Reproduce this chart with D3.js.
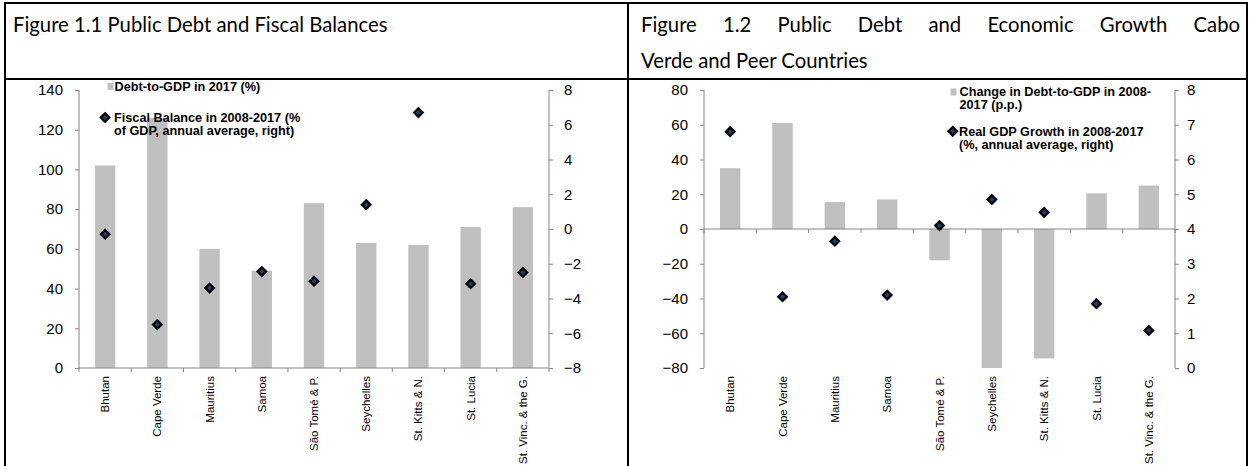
<!DOCTYPE html>
<html>
<head>
<meta charset="utf-8">
<script src="https://cdn.jsdelivr.net/npm/d3@7"></script>
<style>
  html, body { margin: 0; padding: 0; background: #fff; }
  svg { display: block; }
</style>
</head>
<body>
<svg id="chart" width="1251" height="466"></svg>
<script>
// ---- data ----
const countries = ["Bhutan", "Cape Verde", "Mauritius", "Samoa", "São Tomé & P.",
                   "Seychelles", "St. Kitts & N.", "St. Lucia", "St. Vinc. & the G."];

// Figure 1.1
const debtToGdp2017 = [102, 126, 60, 49, 83, 63, 62, 71, 81];
const fiscalBalance = [-0.3, -5.5, -3.4, -2.45, -3.0, 1.4, 6.7, -3.15, -2.5];
const debtTicks11 = [0, 20, 40, 60, 80, 100, 120, 140];
const balanceTicks11 = [-8, -6, -4, -2, 0, 2, 4, 6, 8];

// Figure 1.2
const debtChange = [35, 61, 15.5, 17, -18, -80, -74.5, 20.5, 25];
const gdpGrowth = [6.8, 2.05, 3.65, 2.1, 4.1, 4.85, 4.48, 1.85, 1.08];
const changeTicks12 = [-80, -60, -40, -20, 0, 20, 40, 60, 80];
const growthTicks12 = [0, 1, 2, 3, 4, 5, 6, 7, 8];

const title11 = "Figure 1.1 Public Debt and Fiscal Balances";
const title12a = "Figure 1.2 Public Debt and Economic Growth Cabo";
const title12b = "Verde and Peer Countries";

const legend11 = [["Debt-to-GDP in 2017 (%)"],
                  ["Fiscal Balance in 2008-2017 (%", "of GDP, annual average, right)"]];
const legend12 = [["Change in Debt-to-GDP in 2008-", "2017 (p.p.)"],
                  ["Real GDP Growth in 2008-2017", "(%, annual average, right)"]];

// ---- styles ----
const BAR = "#c0c0c0";
const AXIS = "#868686";
const TEXT_FONT = "'Liberation Sans', Arial, sans-serif";
const TITLE_FONT = "Lato, 'Open Sans', sans-serif";

const svg = d3.select("#chart");

// ---- table frame ----
const frame = svg.append("g").attr("stroke", "#000").attr("stroke-width", 2).attr("fill", "none");
frame.append("line").attr("x1", 5).attr("x2", 5).attr("y1", 2).attr("y2", 466);
frame.append("line").attr("x1", 628).attr("x2", 628).attr("y1", 2).attr("y2", 466);
frame.append("line").attr("x1", 1247).attr("x2", 1247).attr("y1", 2).attr("y2", 466);
frame.append("line").attr("x1", 4).attr("x2", 1248).attr("y1", 3).attr("y2", 3);
frame.append("line").attr("x1", 4).attr("x2", 1248).attr("y1", 79).attr("y2", 79);

// ---- titles ----
svg.append("text")
  .attr("x", 13).attr("y", 32)
  .attr("font-family", TITLE_FONT).attr("font-size", 20.3)
  .attr("fill", "#000")
  .text(title11);

// justified first line of the second title
(function () {
  const words = title12a.split(" ");
  const left = 641, right = 1240;
  const g = svg.append("g").attr("font-family", TITLE_FONT).attr("font-size", 20.3).attr("fill", "#000");
  const nodes = words.map(w => g.append("text").attr("y", 32).text(w));
  const widths = nodes.map(n => n.node().getComputedTextLength());
  const total = d3.sum(widths);
  const gap = (right - left - total) / (words.length - 1);
  let x = left;
  nodes.forEach((n, i) => { n.attr("x", x); x += widths[i] + gap; });
  g.append("text").attr("x", left).attr("y", 68).text(title12b);
})();

// ---- chart builder ----
function diamond(sel, cx, cy) {
  const r = 4.3;
  sel.append("path")
    .attr("d", `M${cx},${cy - r}L${cx + r},${cy}L${cx},${cy + r}L${cx - r},${cy}Z`)
    .attr("fill", "#1f3d6b").attr("stroke", "#000").attr("stroke-width", 2.2)
    .attr("stroke-linejoin", "miter");
}

function drawChart(cfg) {
  const g = svg.append("g");
  const x = d3.scaleBand().domain(countries).range([cfg.x0, cfg.x1])
    .paddingInner(0.61).paddingOuter(0.305);
  const yL = d3.scaleLinear().domain(cfg.leftDomain).range([cfg.yBottom, cfg.yTop]);
  const yR = d3.scaleLinear().domain(cfg.rightDomain).range([cfg.yBottom, cfg.yTop]);

  // bars
  g.append("g").selectAll("rect").data(cfg.bars).join("rect")
    .attr("x", (d, i) => x(countries[i]))
    .attr("width", x.bandwidth())
    .attr("y", d => yL(Math.max(0, d)))
    .attr("height", d => Math.abs(yL(d) - yL(0)))
    .attr("fill", BAR);

  // left axis
  const axL = g.append("g").attr("transform", `translate(${cfg.x0},0)`)
    .call(d3.axisLeft(yL).tickValues(cfg.leftTicks).tickSize(4).tickPadding(12));
  // right axis
  const axR = g.append("g").attr("transform", `translate(${cfg.x1},0)`)
    .call(d3.axisRight(yR).tickValues(cfg.rightTicks).tickSize(4).tickPadding(cfg.rightPad));
  [axL, axR].forEach(a => {
    a.select(".domain").attr("stroke", AXIS).attr("d", `M0,${cfg.yTop}V${cfg.yBottom}`);
    a.selectAll(".tick line").attr("stroke", AXIS);
    a.selectAll(".tick text").attr("font-size", 15).attr("fill", "#000").attr("font-family", TEXT_FONT);
  });

  // category axis line at zero with boundary ticks
  const y0 = yL(0);
  const step = x.step();
  const bounds = d3.range(countries.length + 1).map(i => cfg.x0 + i * step);
  const cat = g.append("g");
  cat.append("line").attr("x1", cfg.x0).attr("x2", cfg.x1).attr("y1", y0).attr("y2", y0)
    .attr("stroke", AXIS);
  cat.selectAll("line.b").data(bounds).join("line").attr("class", "b")
    .attr("x1", d => d).attr("x2", d => d).attr("y1", y0).attr("y2", y0 + 4)
    .attr("stroke", AXIS);

  // category labels along the bottom, rotated
  g.append("g").selectAll("text").data(countries).join("text")
    .attr("transform", d => `translate(${x(d) + x.bandwidth() / 2},${cfg.yBottom + 8}) rotate(-90)`)
    .attr("text-anchor", "end").attr("dy", "0.35em")
    .attr("font-family", TEXT_FONT).attr("font-size", 11.5).attr("fill", "#000")
    .text(d => d);

  // markers
  const mk = g.append("g");
  cfg.points.forEach((v, i) => diamond(mk, x(countries[i]) + x.bandwidth() / 2, yR(v)));

  // legend
  const lg = g.append("g").attr("font-family", TEXT_FONT).attr("font-weight", "bold")
    .attr("font-size", 12.7).attr("fill", "#000");
  const L = cfg.legend;
  lg.append("rect").attr("x", L.sqX).attr("y", L.y1 - 3.5).attr("width", 6).attr("height", 7).attr("fill", BAR);
  cfg.legendText[0].forEach((t, k) => lg.append("text").attr("x", L.textX).attr("y", L.y1 + k * 13)
    .attr("dy", "0.35em").text(t));
  diamond(lg, L.dX, L.y2);
  cfg.legendText[1].forEach((t, k) => lg.append("text").attr("x", L.textX - 0.5).attr("y", L.y2 + k * 13.4)
    .attr("dy", "0.35em").text(t));
}

drawChart({
  x0: 79, x1: 549, yTop: 90, yBottom: 368,
  leftDomain: [0, 140], rightDomain: [-8, 8],
  leftTicks: debtTicks11, rightTicks: balanceTicks11, rightPad: 11,
  bars: debtToGdp2017, points: fiscalBalance,
  legendText: legend11,
  legend: { sqX: 107.5, textX: 114.5, dX: 105, y1: 86.3, y2: 117.5 }
});

drawChart({
  x0: 704, x1: 1175, yTop: 90, yBottom: 368,
  leftDomain: [-80, 80], rightDomain: [0, 8],
  leftTicks: changeTicks12, rightTicks: growthTicks12, rightPad: 8,
  bars: debtChange, points: gdpGrowth,
  legendText: legend12,
  legend: { sqX: 950.5, textX: 959.5, dX: 952.7, y1: 92, y2: 131.3 }
});
</script>
</body>
</html>
